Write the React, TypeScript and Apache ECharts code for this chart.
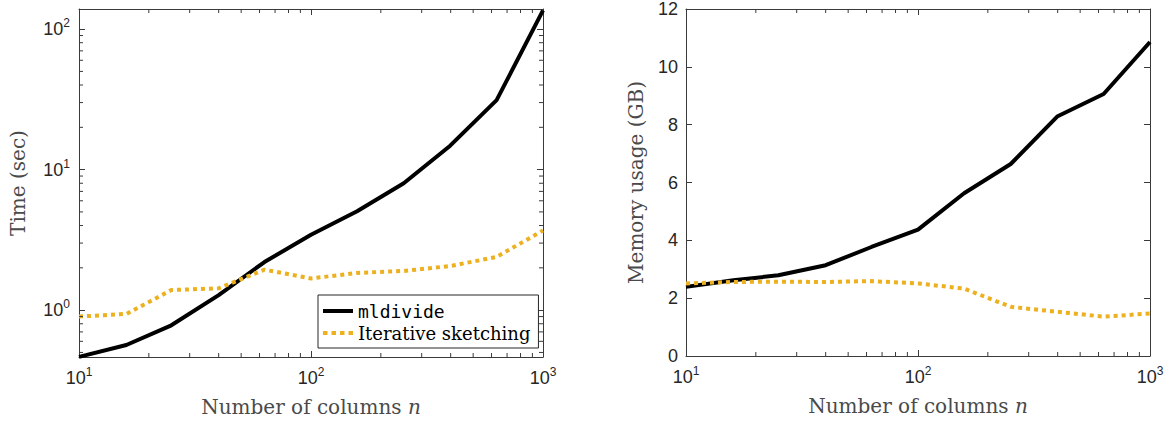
import React, { useEffect, useRef } from 'react';
import * as echarts from 'echarts';

// Number of columns n (log-spaced sample points)
const N_COLS = [10, 16, 25, 40, 63, 100, 158, 251, 398, 631, 1000];
// Left panel: time in seconds
const TIME_MLDIVIDE = [0.465, 0.565, 0.78, 1.28, 2.2, 3.44, 5.06, 8.0, 14.8, 31.2, 136];
const TIME_SKETCH = [0.9, 0.94, 1.39, 1.43, 1.94, 1.68, 1.84, 1.9, 2.06, 2.39, 3.69];
// Right panel: memory usage in GB
const MEM_MLDIVIDE = [2.39, 2.62, 2.79, 3.14, 3.77, 4.37, 5.63, 6.64, 8.28, 9.06, 10.86];
const MEM_SKETCH = [2.51, 2.56, 2.57, 2.56, 2.59, 2.51, 2.33, 1.7, 1.53, 1.36, 1.47];

// Minor tick positions of the log axes
const X_MINOR = [20, 30, 40, 50, 60, 70, 80, 90, 200, 300, 400, 500, 600, 700, 800, 900];
const Y_MINOR_TIME = [0.5, 0.6, 0.7, 0.8, 0.9, 2, 3, 4, 5, 6, 7, 8, 9, 20, 30, 40, 50, 60, 70, 80, 90];

const SERIES_NAMES = ['mldivide', 'Iterative sketching'];

const AXIS_COLOR = '#3a3a3a';
const LABEL_COLOR = '#262626';
const TITLE_COLOR = '#4a4a4a';
const SANS = 'Liberation Sans';
const SERIF = 'DejaVu Serif';
const MONO = 'DejaVu Sans Mono';
const BLACK = '#000000';
const ORANGE = '#EDB120';
const LABEL_SIZE = 18;
const LINE_W = 4;
const MAJOR_LEN = 6;
const MINOR_LEN = 4;

const ICON_SOLID = 'path://M0,0h30v4h-30z';
const ICON_DOTTED = 'path://M0,0h4.5v4h-4.5zM8.5,0h4.5v4h-4.5zM17,0h4.5v4h-4.5zM25.5,0h4.5v4h-4.5z';

const powFormatter = (v: number) => {
  const l = Math.log10(v);
  const e = Math.round(l);
  if (Math.abs(l - e) > 1e-6) return '';
  return '{b|10}{s|' + e + '}';
};

const powRich = {
  b: { fontSize: LABEL_SIZE, lineHeight: LABEL_SIZE, fontFamily: SANS, color: LABEL_COLOR, verticalAlign: 'bottom' },
  s: { fontSize: 12, lineHeight: 12, fontFamily: SANS, color: LABEL_COLOR, verticalAlign: 'bottom', padding: [0, 0, 9, 0] },
};

const lineStyle = { color: AXIS_COLOR, width: 1 };

const nameStyle = { fontFamily: SERIF, fontSize: 20, color: TITLE_COLOR, rich: { i: { fontFamily: SERIF, fontSize: 20, fontStyle: 'italic', color: TITLE_COLOR } } };

function logX(gridIndex: number, position: 'top' | 'bottom') {
  const main = position === 'bottom';
  return {
    gridIndex,
    type: 'log',
    logBase: 10,
    min: 10,
    max: 1000,
    position,
    axisLine: { show: true, onZero: false, lineStyle },
    axisTick: { show: true, inside: true, length: MAJOR_LEN, lineStyle },
    axisLabel: main ? { show: true, formatter: powFormatter, rich: powRich, margin: 12 } : { show: false },
    splitLine: { show: false },
    name: main ? 'Number of columns {i|n}' : '',
    nameLocation: 'middle',
    nameGap: 40,
    nameTextStyle: nameStyle,
  };
}

function minorX(xAxisIndex: number, yAxisIndex: number, yVal: number) {
  return {
    type: 'custom',
    xAxisIndex,
    yAxisIndex,
    silent: true,
    clip: false,
    z: 5,
    data: X_MINOR.map((v) => [v, yVal]),
    renderItem: (params: any, api: any) => {
      const p = api.coord([api.value(0), api.value(1)]);
      const cs = params.coordSys;
      const x = p[0];
      const st = { stroke: AXIS_COLOR, lineWidth: 1 };
      return {
        type: 'group',
        children: [
          { type: 'line', shape: { x1: x, y1: cs.y + cs.height, x2: x, y2: cs.y + cs.height - MINOR_LEN }, style: st },
          { type: 'line', shape: { x1: x, y1: cs.y, x2: x, y2: cs.y + MINOR_LEN }, style: st },
        ],
      };
    },
  };
}

function minorY(xAxisIndex: number, yAxisIndex: number, values: number[]) {
  return {
    type: 'custom',
    xAxisIndex,
    yAxisIndex,
    silent: true,
    clip: false,
    z: 5,
    data: values.map((v) => [100, v]),
    renderItem: (params: any, api: any) => {
      const p = api.coord([api.value(0), api.value(1)]);
      const cs = params.coordSys;
      const y = p[1];
      const st = { stroke: AXIS_COLOR, lineWidth: 1 };
      return {
        type: 'group',
        children: [
          { type: 'line', shape: { x1: cs.x, y1: y, x2: cs.x + MINOR_LEN, y2: y }, style: st },
          { type: 'line', shape: { x1: cs.x + cs.width, y1: y, x2: cs.x + cs.width - MINOR_LEN, y2: y }, style: st },
        ],
      };
    },
  };
}

function lineSeries(name: string, xAxisIndex: number, yAxisIndex: number, values: number[], color: string, dotted: boolean) {
  return {
    type: 'line',
    name,
    xAxisIndex,
    yAxisIndex,
    data: N_COLS.map((n, i) => [n, values[i]]),
    symbol: 'none',
    showSymbol: false,
    smooth: false,
    z: 3,
    lineStyle: { color, width: LINE_W, type: dotted ? [4, 4] : 'solid', cap: 'butt' },
    itemStyle: { color },
  };
}

function valueY(position: 'left' | 'right') {
  const main = position === 'left';
  return {
    gridIndex: 1, type: 'value', min: 0, max: 12, interval: 2, position,
    axisLine: { show: true, onZero: false, lineStyle },
    axisTick: { show: true, inside: true, length: MAJOR_LEN, lineStyle },
    axisLabel: main ? { show: true, fontFamily: SANS, fontSize: LABEL_SIZE, color: LABEL_COLOR, margin: 8 } : { show: false },
    splitLine: { show: false },
    name: main ? 'Memory usage (GB)' : '', nameLocation: 'middle', nameGap: 40, nameTextStyle: nameStyle,
  };
}

function logY(position: 'left' | 'right') {
  const main = position === 'left';
  return {
    gridIndex: 0, type: 'log', logBase: 10, min: 0.464, max: 139, position,
    axisLine: { show: true, onZero: false, lineStyle },
    axisTick: { show: true, inside: true, length: MAJOR_LEN, lineStyle },
    axisLabel: main ? { show: true, formatter: powFormatter, rich: powRich, margin: 9 } : { show: false },
    splitLine: { show: false },
    name: main ? 'Time (sec)' : '', nameLocation: 'middle', nameGap: 51, nameTextStyle: nameStyle,
  };
}

export default function App() {
  const ref = useRef<HTMLDivElement>(null);
  useEffect(() => {
    document.body.style.margin = '0';
    if (!ref.current) return;
    const chart = echarts.init(ref.current, null, { renderer: 'svg' });
    const option: any = {
      animation: false,
      backgroundColor: '#ffffff',
      grid: [
        { left: 79, top: 9, width: 464, height: 348 },
        { left: 686, top: 9, width: 464, height: 347 },
      ],
      xAxis: [logX(0, 'bottom'), logX(0, 'top'), logX(1, 'bottom'), logX(1, 'top')],
      yAxis: [logY('left'), logY('right'), valueY('left'), valueY('right')],
      legend: {
        show: true,
        orient: 'vertical',
        left: 318,
        top: 295,
        padding: [7, 8, 6, 5],
        itemGap: 4,
        itemWidth: 30,
        itemHeight: 14,
        backgroundColor: '#ffffff',
        borderColor: '#262626',
        borderWidth: 1,
        borderRadius: 0,
        selectedMode: false,
        textStyle: { fontSize: 18, color: '#000000', fontFamily: SERIF },
        data: [
          { name: SERIES_NAMES[0], icon: ICON_SOLID, itemStyle: { color: BLACK }, textStyle: { fontFamily: MONO, fontSize: 18 } },
          { name: SERIES_NAMES[1], icon: ICON_DOTTED, itemStyle: { color: ORANGE }, textStyle: { fontFamily: SERIF, fontSize: 18 } },
        ],
      },
      series: [
        minorX(0, 0, 1),
        minorY(0, 0, Y_MINOR_TIME),
        minorX(2, 2, 1),
        lineSeries(SERIES_NAMES[0], 0, 0, TIME_MLDIVIDE, BLACK, false),
        lineSeries(SERIES_NAMES[1], 0, 0, TIME_SKETCH, ORANGE, true),
        lineSeries(SERIES_NAMES[0], 2, 2, MEM_MLDIVIDE, BLACK, false),
        lineSeries(SERIES_NAMES[1], 2, 2, MEM_SKETCH, ORANGE, true),
      ],
    };
    chart.setOption(option);
    return () => chart.dispose();
  }, []);
  return <div ref={ref} style={{ width: 1175, height: 425 }} />;
}
